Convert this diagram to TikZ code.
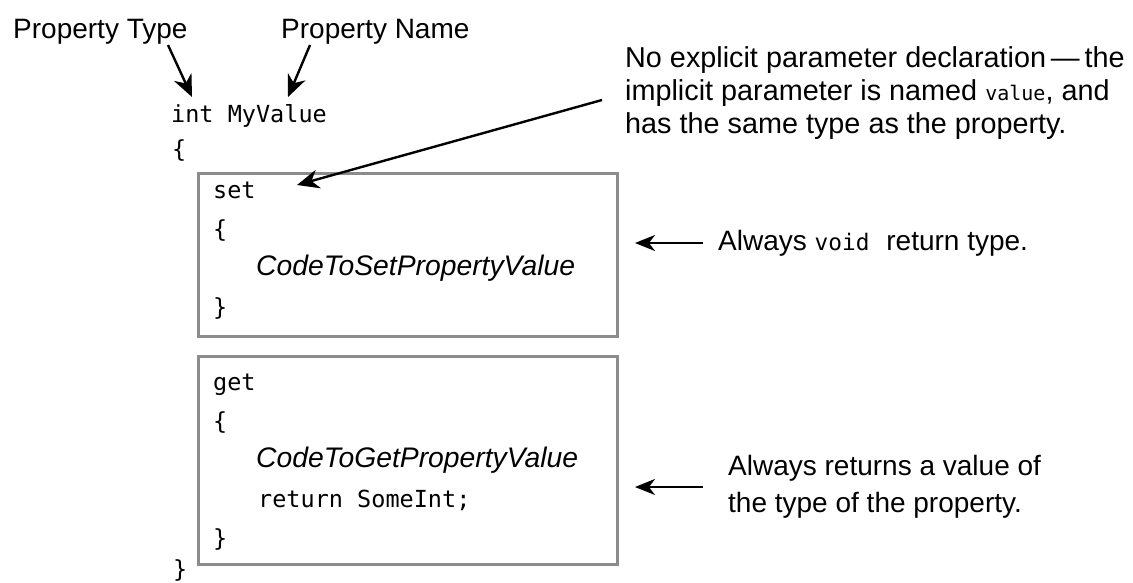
\documentclass[tikz,border=0pt]{standalone}
\usepackage{fontspec}
\setmainfont{Liberation Sans}
\newfontfamily\codefont{DejaVu Sans Mono}
\usetikzlibrary{arrows.meta}
\begin{document}
\begin{tikzpicture}[x=1pt,y=-1pt,
  note/.style={font=\fontsize{28}{33}\selectfont, anchor=base west, inner sep=0pt},
  bignote/.style={note, font=\fontsize{28.8}{33}\selectfont},
  code/.style={font=\codefont\fontsize{23.5}{28}\selectfont, anchor=base west, inner sep=0pt},
  ital/.style={font=\fontsize{28.3}{32}\selectfont\itshape, anchor=base west, inner sep=0pt},
  frame/.style={draw=black!45, line width=2.5pt, anchor=north west, inner sep=0pt},
  ptr/.style={draw=black, line width=2.4pt, -{Stealth[length=22pt,width=19pt,inset=7pt]}},
  side/.style={draw=black, line width=2pt, -{Stealth[length=20pt,width=16pt,inset=6pt]}}]
\useasboundingbox (0,0) rectangle (1133,582);

% labels over the declaration
\node[note] (ptype) at (13,38) {Property Type};
\node[note] (pname) at (281,38) {Property Name};

% property declaration
\node[code] (decl) at (171,122) {int MyValue};
\node[code] (open) at (172,157) {\{};
\node[code] (close) at (173,577) {\}};

% set accessor
\node[frame, minimum width=419pt, minimum height=163pt] (setbox) at (197,172) {};
\node[code] (setkw) at (213,198) {set};
\node[code] (setopen) at (213,237) {\{};
\node[ital] (setbody) at (256,275) {CodeToSetPropertyValue};
\node[code] (setclose) at (213,315) {\}};

% get accessor
\node[frame, minimum width=419pt, minimum height=208pt] (getbox) at (197,355) {};
\node[code] (getkw) at (213,390) {get};
\node[code] (getopen) at (213,429) {\{};
\node[ital] (getbody) at (256,467) {CodeToGetPropertyValue};
\node[code] (getret) at (258,507) {return SomeInt;};
\node[code] (getclose) at (213,546) {\}};

% notes on the right
\node[bignote] (impl1) at (625,67) {No explicit parameter declaration\,—\,the};
\node[bignote] (impl2) at (625,100) {implicit parameter is named {\codefont\fontsize{20}{22}\selectfont value}, and};
\node[bignote] (impl3) at (625,133) {has the same type as the property.};
\node[note] (voidnote) at (718,250) {Always {\codefont\fontsize{22.8}{26}\selectfont void}\hspace{9pt} return type.};
\node[note] (retnote1) at (728,475) {Always returns a value of};
\node[note] (retnote2) at (728,512) {the type of the property.};

% arrow end points
\coordinate (typeTail) at (168,45);
\coordinate (typeTip) at (192,97);
\coordinate (nameTail) at (310,45);
\coordinate (nameTip) at (288,97);
\coordinate (implTail) at (602,100);
\coordinate (implTip) at (297,185);
\coordinate (voidTail) at (703,243);
\coordinate (voidTip) at (635,243);
\coordinate (retTail) at (703,487);
\coordinate (retTip) at (635,487);

\draw[ptr] (typeTail) -- (typeTip);
\draw[ptr] (nameTail) -- (nameTip);
\draw[ptr] (implTail) -- (implTip);
\draw[side] (voidTail) -- (voidTip);
\draw[side] (retTail) -- (retTip);
\end{tikzpicture}
\end{document}
